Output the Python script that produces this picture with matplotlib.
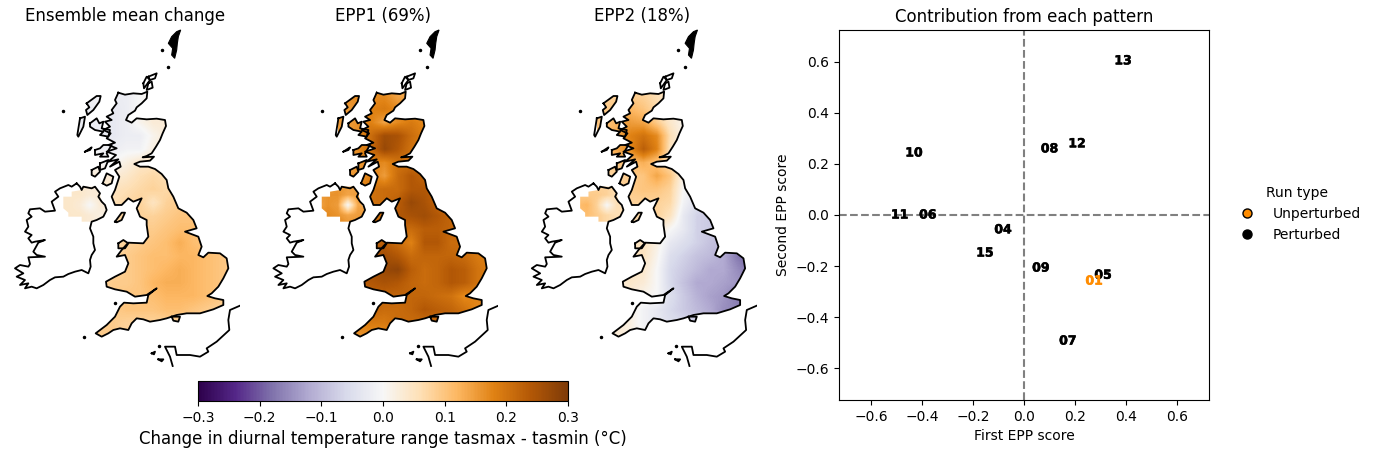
import numpy as np
import matplotlib
matplotlib.use("Agg")
from matplotlib import pyplot as plt
from matplotlib import patheffects as pe
from matplotlib.path import Path
from matplotlib.patches import PathPatch
from matplotlib.lines import Line2D

W, H = 1376, 454

titles = ["Ensemble mean change", "EPP1 (69%)", "EPP2 (18%)"]

# field sample positions on the map (map units), values are in 0.01 degC
grid_x = [260, 300, 340, 380, 420, 460, 500, 540, 580, 620, 660, 700]
grid_y = [230, 270, 310, 350, 390, 430, 470, 510, 550, 590, 630, 670, 710, 750, 790, 830, 870, 910, 950]

mean_change = [
    [-1, -1, -2, -2, 0, 1, 2, 2, 2, 2, 2, 2],
    [-2, -2, -3, -2, 0, 2, 3, 3, 3, 3, 3, 3],
    [-2, -2, -3, -2, 1, 3, 3, 3, 3, 3, 3, 3],
    [-2, -2, -3, -2, -2, 1, 3, 3, 3, 3, 3, 3],
    [-1, -1, -2, -1, -1, 2, 4, 4, 4, 4, 4, 4],
    [0, 0, 0, 2, 4, 5, 6, 6, 6, 6, 6, 6],
    [3, 3, 3, 4, 6, 7, 6, 6, 6, 6, 6, 6],
    [4, 4, 5, 6, 7, 8, 7, 8, 8, 8, 8, 8],
    [5, 5, 6, 7, 8, 5, 8, 9, 9, 9, 9, 9],
    [6, 6, 7, 8, 8, 8, 9, 10, 10, 9, 9, 9],
    [7, 7, 7, 8, 9, 9, 10, 11, 11, 10, 9, 9],
    [6, 6, 7, 8, 9, 10, 11, 13, 11, 10, 10, 10],
    [7, 7, 8, 9, 10, 11, 11, 12, 12, 11, 10, 9],
    [7, 8, 8, 9, 10, 11, 12, 13, 12, 11, 10, 9],
    [8, 8, 9, 9, 10, 12, 13, 13, 12, 11, 10, 9],
    [9, 8, 9, 10, 10, 11, 12, 12, 12, 11, 10, 9],
    [9, 9, 9, 10, 10, 10, 11, 11, 10, 9, 8, 8],
    [9, 9, 9, 8, 8, 8, 8, 8, 8, 8, 8, 8],
    [9, 9, 9, 8, 8, 8, 8, 8, 8, 8, 8, 8],
]
epp1 = [
    [17, 17, 17, 17, 14, 14, 14, 14, 14, 14, 14, 14],
    [15, 16, 18, 19, 17, 15, 15, 15, 15, 15, 15, 15],
    [15, 16, 18, 14, 17, 19, 17, 17, 17, 17, 17, 17],
    [15, 17, 21, 26, 25, 21, 18, 18, 18, 18, 18, 18],
    [15, 17, 21, 27, 24, 20, 18, 18, 18, 18, 18, 18],
    [15, 15, 18, 17, 20, 20, 20, 20, 20, 20, 20, 20],
    [15, 16, 18, 15, 21, 24, 22, 22, 22, 22, 22, 22],
    [16, 17, 20, 21, 21, 24, 24, 22, 22, 22, 22, 22],
    [18, 19, 20, 21, 23, 27, 25, 22, 21, 21, 21, 21],
    [19, 20, 21, 21, 24, 25, 26, 24, 22, 21, 21, 21],
    [20, 21, 21, 21, 22, 21, 23, 23, 22, 21, 21, 21],
    [22, 22, 22, 23, 21, 18, 24, 24, 21, 21, 20, 20],
    [22, 23, 24, 26, 24, 21, 22, 22, 22, 21, 19, 18],
    [23, 24, 26, 27, 28, 23, 21, 22, 24, 23, 20, 18],
    [22, 23, 24, 25, 24, 22, 21, 22, 24, 23, 20, 18],
    [21, 21, 22, 22, 22, 22, 22, 21, 20, 17, 18, 18],
    [20, 21, 22, 21, 21, 22, 24, 23, 22, 20, 17, 17],
    [17, 18, 19, 19, 21, 21, 21, 21, 21, 20, 18, 18],
    [15, 16, 16, 16, 18, 18, 18, 18, 18, 18, 18, 18],
]
epp2 = [
    [8, 8, 9, 8, 6, 4, 3, 3, 3, 3, 3, 3],
    [9, 10, 12, 10, 7, 4, 3, 3, 3, 3, 3, 3],
    [10, 12, 15, 14, 9, 4, 1, 1, 1, 1, 1, 1],
    [11, 14, 18, 20, 17, 6, 1, 1, 1, 1, 1, 1],
    [11, 14, 17, 23, 18, 5, 1, 1, 1, 1, 1, 1],
    [9, 10, 11, 13, 10, 6, 2, 2, 2, 2, 2, 2],
    [7, 8, 9, 10, 14, 10, 1, -2, -2, -2, -2, -2],
    [7, 8, 9, 10, 10, 8, 0, -3, -4, -4, -4, -4],
    [7, 7, 8, 8, 8, 7, -1, -5, -7, -7, -7, -7],
    [6, 6, 7, 7, 8, 5, -3, -7, -8, -9, -9, -9],
    [5, 5, 6, 6, 4, 0, -3, -7, -8, -9, -9, -9],
    [4, 4, 5, 5, 2, -3, -5, -7, -9, -10, -11, -11],
    [4, 4, 6, 5, 1, -5, -7, -9, -10, -12, -17, -20],
    [3, 3, 5, 4, 0, -6, -8, -10, -12, -12, -15, -18],
    [3, 3, 4, 3, 0, -6, -9, -12, -12, -13, -14, -15],
    [2, 2, 3, 1, 0, -5, -8, -11, -13, -14, -17, -17],
    [3, 3, 2, -1, -3, -6, -8, -10, -12, -15, -16, -16],
    [3, 3, 2, -1, -3, -5, -6, -7, -8, -9, -10, -10],
    [3, 3, 2, 0, -2, -4, -5, -6, -6, -6, -6, -6],
]

# Northern Ireland has its own little sample grid
ni_x = [180, 210, 240, 270, 300, 330]
ni_y = [495, 525, 555, 585, 615]
ni_mean = [[4, 4, 4, 3, 3, 3], [4, 4, 4, 3, 3, 3], [4, 4, 3, 0, 3, 3], [4, 4, 4, 3, 2, 2], [4, 4, 4, 3, 2, 2]]
ni_epp1 = [[15, 15, 16, 15, 14, 14], [15, 16, 16, 14, 15, 15], [14, 16, 15, 0, 14, 14], [16, 17, 16, 14, 15, 15], [18, 18, 18, 16, 15, 15]]
ni_epp2 = [[8, 8, 8, 8, 6, 6], [9, 9, 9, 8, 6, 6], [11, 12, 8, 0, 6, 6], [10, 11, 9, 7, 6, 6], [9, 9, 9, 7, 6, 6]]

fields = [mean_change, epp1, epp2]
ni_fields = [ni_mean, ni_epp1, ni_epp2]

# coast outlines, traced in map units
gb_coast = [(355, 218), (375, 224), (400, 220), (425, 222), (442, 215), (440, 235), (425, 250), (410, 262), (405, 272),
    (385, 285), (378, 300), (395, 308), (410, 295), (440, 298), (470, 296), (495, 300), (498, 318), (488, 340),
    (480, 360), (468, 380), (455, 400), (440, 408), (428, 412), (462, 410), (450, 422), (420, 425), (403, 432),
    (420, 440), (445, 440), (465, 447), (485, 462), (500, 480), (505, 505), (520, 530), (535, 565), (560, 578),
    (580, 600), (590, 625), (555, 635), (595, 650), (605, 680), (595, 705), (610, 712), (625, 698), (660, 700),
    (680, 715), (685, 745), (670, 775), (655, 800), (635, 820), (622, 828), (645, 835), (670, 840), (670, 855),
    (640, 868), (600, 880), (560, 880), (530, 885), (500, 895), (480, 900), (450, 905), (430, 898), (410, 895),
    (395, 910), (385, 930), (360, 925), (340, 930), (325, 940), (305, 950), (287, 940), (300, 930), (320, 915),
    (345, 890), (360, 860), (372, 848), (400, 850), (440, 848), (445, 825), (470, 805), (440, 825), (405, 830),
    (380, 815), (345, 808), (320, 800), (318, 785), (345, 770), (375, 755), (385, 730), (375, 705), (350, 710),
    (365, 690), (385, 668), (430, 670), (445, 650), (440, 615), (440, 600), (420, 590), (410, 565), (425, 535),
    (400, 545), (385, 535), (365, 555), (345, 555), (335, 530), (345, 510), (358, 470), (345, 450), (362, 440),
    (358, 425), (330, 440), (355, 418), (325, 425), (348, 405), (320, 395), (350, 385), (325, 375), (345, 368),
    (320, 355), (332, 340), (310, 330), (330, 320), (315, 305), (335, 300), (320, 290), (340, 280), (335, 270),
    (350, 250), (345, 240), (355, 218)]
ireland_coast = [(230, 490), (240, 500), (245, 510), (250, 500), (275, 505), (285, 500), (300, 520), (295, 530),
    (305, 545), (315, 555), (320, 570), (310, 590), (290, 600), (275, 605), (270, 625), (280, 650), (280, 670),
    (285, 690), (275, 705), (270, 720), (272, 740), (265, 760), (245, 750), (225, 755), (205, 762), (190, 770),
    (165, 772), (150, 780), (130, 795), (110, 805), (95, 800), (75, 805), (85, 790), (60, 795), (75, 780), (50, 770),
    (70, 760), (45, 745), (60, 735), (85, 740), (90, 732), (85, 712), (135, 710), (110, 705), (100, 695), (115, 668),
    (135, 660), (105, 665), (95, 668), (85, 655), (95, 645), (75, 635), (85, 620), (80, 600), (95, 590), (85, 580),
    (90, 568), (120, 565), (135, 575), (165, 572), (155, 545), (175, 530), (165, 515), (180, 505), (205, 495),
    (215, 500), (230, 490)]
ni_land = [(190, 530), (215, 530), (215, 515), (245, 510), (250, 500), (285, 500), (300, 520), (305, 545), (320, 570),
    (310, 590), (275, 605), (245, 605), (245, 590), (205, 590), (205, 578), (190, 565), (190, 530)]
france_coast = [(720, 857), (690, 870), (685, 900), (688, 930), (650, 965), (620, 985), (625, 995), (600, 1010),
    (570, 1005), (530, 1005), (525, 980), (495, 980), (510, 1010), (518, 1038)]
islands = [
    [(260, 250), (290, 228), (302, 228), (298, 245), (280, 270), (262, 285), (258, 270), (268, 262), (260, 250)],
    [(240, 295), (255, 290), (250, 320), (235, 350), (232, 345), (240, 295)],
    [(270, 310), (290, 295), (298, 310), (310, 305), (305, 325), (330, 330), (325, 350), (300, 345), (310, 335),
     (285, 330), (270, 320), (270, 310)],
    [(285, 390), (300, 385), (310, 375), (335, 375), (320, 400), (325, 410), (300, 410), (310, 400), (285, 405), (285, 390)],
    [(255, 395), (275, 382), (270, 390), (255, 395)],
    [(275, 450), (295, 440), (300, 455), (285, 470), (275, 465), (275, 450)],
    [(300, 430), (325, 420), (315, 445), (300, 450), (300, 430)],
    [(308, 490), (320, 460), (340, 470), (335, 490), (320, 497), (308, 490)],
    [(345, 605), (365, 578), (375, 578), (365, 600), (350, 607), (345, 605)],
    [(355, 670), (370, 660), (385, 670), (375, 685), (355, 685), (355, 670)],
    [(515, 890), (540, 890), (535, 905), (520, 902), (515, 890)],
]
# these are not coloured on the maps
plain_islands = [
    [(430, 190), (440, 170), (450, 180), (432, 205), (430, 190)],
    [(445, 170), (470, 160), (465, 175), (450, 180), (445, 170)],
    [(445, 190), (455, 185), (458, 203), (440, 210), (445, 190)],
    [(475, 1018), (490, 1018), (485, 1024), (475, 1018)],
    [(455, 1000), (465, 995), (462, 1003), (455, 1000)],
]
# Shetland is solid black at this size
shetland = [(530, 35), (542, 30), (535, 50), (532, 70), (530, 90), (524, 115), (515, 105), (518, 85), (505, 70), (515, 50), (530, 35)]
coast_dots_x = [190, 485, 505, 252, 345, 478]
coast_dots_y = [272, 90, 140, 952, 850, 978]

# contribution panel
member_labels = ["13", "10", "08", "12", "11", "06", "04", "15", "09", "05", "01", "07"]
epp1_scores = [0.388, -0.431, 0.10, 0.208, -0.487, -0.377, -0.082, -0.153, 0.066, 0.31, 0.275, 0.172]
epp2_scores = [0.604, 0.243, 0.259, 0.279, 0.0, 0.0, -0.058, -0.149, -0.208, -0.236, -0.259, -0.494]
unperturbed = ["01"]
score_ticks = [-0.6, -0.4, -0.2, 0.0, 0.2, 0.4, 0.6]
cbar_ticks = [-0.3, -0.2, -0.1, 0.0, 0.1, 0.2, 0.3]


def px_axes(fig, left, top, right, bottom):
    return fig.add_axes([left / W, 1 - bottom / H, (right - left) / W, (bottom - top) / H])


def to_path(polys):
    verts, codes = [], []
    for p in polys:
        verts += p
        codes += [Path.MOVETO] + [Path.LINETO] * (len(p) - 1)
    return Path(verts, codes)


def show_field(ax, xs, ys, values, clip):
    dx, dy = xs[1] - xs[0], ys[1] - ys[0]
    ext = (xs[0] - dx / 2, xs[-1] + dx / 2, ys[-1] + dy / 2, ys[0] - dy / 2)
    im = ax.imshow(np.array(values) / 100, extent=ext, cmap="PuOr_r", vmin=-0.3, vmax=0.3,
                   interpolation="bilinear", aspect="auto", origin="upper")
    patch = PathPatch(clip, transform=ax.transData, fc="none", ec="none")
    ax.add_patch(patch)
    im.set_clip_path(patch)
    return im


fig = plt.figure(figsize=(W / 100, H / 100), dpi=100)

for i in range(3):
    off = i * 258.4
    ax = px_axes(fig, 10 + off, 25, 240 + off, 367)
    im = show_field(ax, grid_x, grid_y, fields[i], to_path([gb_coast] + islands))
    show_field(ax, ni_x, ni_y, ni_fields[i], to_path([ni_land]))
    for line in [gb_coast, ireland_coast, france_coast] + islands + plain_islands:
        xs, ys = zip(*line)
        ax.plot(xs, ys, color="black", lw=1.3, solid_joinstyle="round")
    sx, sy = zip(*shetland)
    ax.fill(sx, sy, color="black", lw=0.8)
    ax.plot(coast_dots_x, coast_dots_y, "o", color="black", ms=1.5)
    ax.set_xlim(30, 720)
    ax.set_ylim(1041, 15)
    ax.axis("off")
    ax.set_title(titles[i], fontsize=12, pad=2)

cax = px_axes(fig, 198, 381, 568, 401)
cb = fig.colorbar(im, cax=cax, orientation="horizontal", ticks=cbar_ticks)
cb.set_label("Change in diurnal temperature range tasmax - tasmin (°C)", fontsize=12)

ax = px_axes(fig, 839, 30, 1209, 400)
ax.axhline(0, color="grey", ls="--", lw=1.5)
ax.axvline(0, color="grey", ls="--", lw=1.5)
for lab, x, y in zip(member_labels, epp1_scores, epp2_scores):
    c = "darkorange" if lab in unperturbed else "black"
    ax.text(x, y, lab, color=c, fontsize=9, fontweight="bold", ha="center", va="center",
            path_effects=[pe.withStroke(linewidth=0.4, foreground=c)])
ax.set_xlim(-0.725, 0.725)
ax.set_ylim(-0.725, 0.725)
ax.set_xticks(score_ticks)
ax.set_yticks(score_ticks)
ax.set_xlabel("First EPP score")
ax.set_ylabel("Second EPP score")
ax.set_title("Contribution from each pattern", fontsize=12)

handles = [Line2D([], [], marker="o", ls="", mfc="darkorange", mec="black", ms=6.5, label="Unperturbed"),
           Line2D([], [], marker="o", ls="", mfc="black", mec="black", ms=6.5, label="Perturbed")]
fig.legend(handles=handles, title="Run type", frameon=False, loc="center left",
           bbox_to_anchor=(1221 / W, 1 - 214 / H))

fig.savefig("out.png", dpi=100)
